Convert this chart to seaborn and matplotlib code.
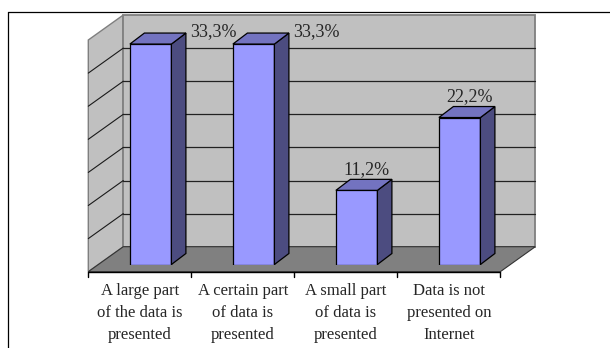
import matplotlib
matplotlib.use("Agg")
import matplotlib.pyplot as plt
from matplotlib.patches import Polygon
from matplotlib.lines import Line2D
from matplotlib.transforms import ScaledTranslation
import seaborn as sns

# ---- data -------------------------------------------------------------
categories = [
    "A large part\nof the data is\npresented",
    "A certain part\nof data is\npresented",
    "A small part\nof data is\npresented",
    "Data is not\npresented on\nInternet",
]
shares = [33.3, 33.3, 11.2, 22.2]
y_max = 35
grid_step = 5

# ---- style ------------------------------------------------------------
sns.set_style("white")
plt.rcParams["font.family"] = ["Liberation Serif", "DejaVu Serif"]

FACE = "#9999FF"
TOP = "#7373C0"
SIDE = "#4C4C80"
WALL = "#C0C0C0"
FLOOR = "#808080"
WALL_EDGE = "#7F7F7F"

W, H, DPI = 610, 348, 100
fig = plt.figure(figsize=(W / DPI, H / DPI), dpi=DPI)

# plot plane = plane of the bar front faces (pixel geometry)
ax_left, ax_bottom, ax_w, ax_h = 99.15, H - 264.5, 412.0, 231.7
ax = fig.add_axes([ax_left / W, ax_bottom / H, ax_w / W, ax_h / H])

ux = ax_w / len(categories)   # pixels per category unit
uy = ax_h / y_max             # pixels per percent

# depth offsets in pixels (x right, y up) relative to the bar-front plane
FRONT = (-10.85, -7.2)
BACK = (24.15, 17.8)
BAR_D = (14.5, 11.0)


def pt(x, y, off=(0.0, 0.0)):
    return (x + off[0] / ux, y + off[1] / uy)


x_lo, x_hi = -0.5, len(categories) - 0.5

# bars (front faces)
sns.barplot(x=categories, y=shares, color=FACE, saturation=1, width=0.403,
            edgecolor="black", linewidth=0.9, ax=ax, zorder=3)
bars = list(ax.patches)

# walls and floor
left_wall = Polygon([pt(x_lo, 0, FRONT), pt(x_lo, y_max, FRONT),
                     pt(x_lo, y_max, BACK), pt(x_lo, 0, BACK)],
                    closed=True, facecolor=WALL, edgecolor=WALL_EDGE,
                    linewidth=1.0, zorder=0.5, clip_on=False)
back_wall = Polygon([pt(x_lo, 0, BACK), pt(x_lo, y_max, BACK),
                     pt(x_hi, y_max, BACK), pt(x_hi, 0, BACK)],
                    closed=True, facecolor=WALL, edgecolor=WALL_EDGE,
                    linewidth=1.3, zorder=0.5, clip_on=False)
floor = Polygon([pt(x_lo, 0, FRONT), pt(x_hi, 0, FRONT),
                 pt(x_hi, 0, BACK), pt(x_lo, 0, BACK)],
                closed=True, facecolor=FLOOR, edgecolor="#333333",
                linewidth=0.8, zorder=0.8, clip_on=False)
for p in (left_wall, back_wall, floor):
    ax.add_patch(p)

# floor front edge drawn in black
fx = [pt(x_lo, 0, FRONT)[0], pt(x_hi, 0, FRONT)[0]]
fy = [pt(x_lo, 0, FRONT)[1]] * 2
ax.add_line(Line2D(fx, fy, color="black", linewidth=1.0, zorder=1, clip_on=False))

# gridlines on back and left walls
for g in range(grid_step, y_max, grid_step):
    a = pt(x_lo, g, BACK)
    b = pt(x_hi, g, BACK)
    c = pt(x_lo, g, FRONT)
    ax.add_line(Line2D([a[0], b[0]], [a[1], b[1]], color="#222222",
                       linewidth=0.9, zorder=0.7, clip_on=False))
    ax.add_line(Line2D([c[0], a[0]], [c[1], a[1]], color="#1a1a1a",
                       linewidth=0.8, zorder=0.7, clip_on=False))

# category separator ticks on the floor front edge
for k in range(len(categories) + 1):
    x = x_lo + k
    a = pt(x, 0, FRONT)
    b = pt(x, 0, (FRONT[0], FRONT[1] - 5))
    ax.add_line(Line2D([a[0], b[0]], [a[1], b[1]], color="black",
                       linewidth=1.0, zorder=1, clip_on=False))

# 3-D top and side faces of each bar, plus value labels
for bar, val in zip(bars, shares):
    x0 = bar.get_x()
    x1 = x0 + bar.get_width()
    h = bar.get_height()
    top = Polygon([pt(x0, h), pt(x1, h), pt(x1, h, BAR_D), pt(x0, h, BAR_D)],
                  closed=True, facecolor=TOP, edgecolor="black",
                  linewidth=0.9, zorder=3, clip_on=False)
    side = Polygon([pt(x1, 0), pt(x1, h), pt(x1, h, BAR_D), pt(x1, 0, BAR_D)],
                   closed=True, facecolor=SIDE, edgecolor="black",
                   linewidth=0.9, zorder=3, clip_on=False)
    ax.add_patch(side)
    ax.add_patch(top)

    text = f"{val:.1f}".replace(".", ",") + "%"
    if h * uy + 21 < ax_h:
        tx, ty = pt((x0 + x1) / 2, h, (10, 21))
        ha = "center"
    else:
        tx, ty = pt(x1, h, (BAR_D[0] + 4, BAR_D[1] + 1.5))
        ha = "left"
    ax.text(tx, ty, text, ha=ha, va="center", fontsize=13, zorder=4)

ax.set_xlim(x_lo, x_hi)
ax.set_ylim(0, y_max)
ax.set_facecolor("none")
for s in ax.spines.values():
    s.set_visible(False)
ax.set_yticks([])
ax.set_xlabel("")
ax.set_ylabel("")
ax.set_xticks(range(len(categories)))
ax.set_xticklabels(categories, linespacing=1.5, fontsize=12)
ax.tick_params(axis="x", length=0, pad=13.5)
shift = ScaledTranslation(FRONT[0] / DPI, 0, fig.dpi_scale_trans)
for lab in ax.get_xticklabels():
    lab.set_transform(lab.get_transform() + shift)

# outer frame (left and top edges)
fx0 = 8.3 / W
fy0 = 1 - 12.3 / H
fig.add_artist(Line2D([fx0, fx0], [0, fy0], transform=fig.transFigure,
                      color="black", linewidth=0.9))
fig.add_artist(Line2D([fx0, 1], [fy0, fy0], transform=fig.transFigure,
                      color="black", linewidth=0.9))

fig.savefig("out.png", dpi=DPI)
